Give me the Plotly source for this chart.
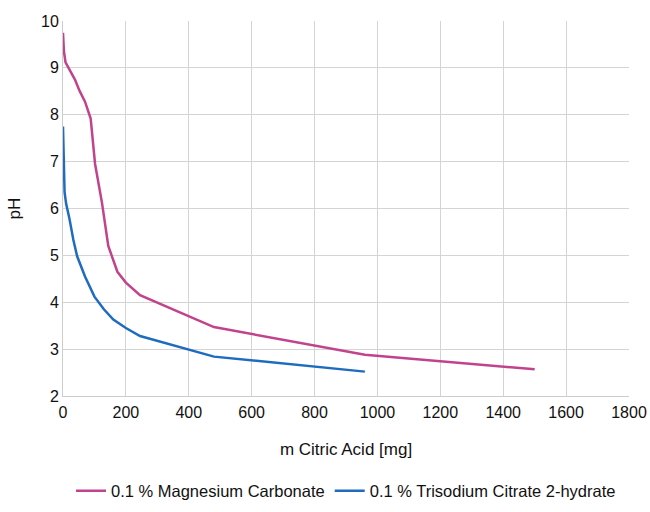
import plotly.graph_objects as go

# Magnesium carbonate series
mg_x = [0, 3, 8, 20, 38, 52, 70, 88, 102, 124, 144, 173, 200, 245, 480, 960, 1500]
mg_y = [9.75, 9.35, 9.12, 8.96, 8.75, 8.52, 8.28, 7.92, 6.95, 6.12, 5.2, 4.65, 4.42, 4.15, 3.47, 2.88, 2.57]

# Trisodium citrate series
tc_x = [0, 2, 5, 10, 20, 33, 45, 70, 100, 130, 160, 200, 245, 480, 960]
tc_y = [7.75, 6.9, 6.35, 6.1, 5.8, 5.33, 4.98, 4.55, 4.12, 3.85, 3.63, 3.45, 3.28, 2.84, 2.52]

names = ["0.1 % Magnesium Carbonate", "0.1 % Trisodium Citrate 2-hydrate"]
x_title = "m Citric Acid [mg]"
y_title = "pH"

fig = go.Figure()
fig.add_trace(go.Scatter(x=mg_x, y=mg_y, mode="lines", name=names[0],
                         line=dict(color="#c1438e", width=2.5)))
fig.add_trace(go.Scatter(x=tc_x, y=tc_y, mode="lines", name=names[1],
                         line=dict(color="#1f6cbf", width=2.5)))

fig.update_layout(
    width=650, height=512,
    margin=dict(l=63, r=21, t=21, b=116, autoexpand=False),
    paper_bgcolor="white", plot_bgcolor="white",
    font=dict(family="Liberation Sans, Arial, sans-serif", size=16, color="#111111"),
    legend=dict(orientation="h", x=0.5, xanchor="center",
                yref="container", y=0.041, yanchor="middle",
                font=dict(size=16.5), traceorder="normal"),
)
fig.update_xaxes(range=[0, 1800], dtick=200, showgrid=True, gridcolor="#d4d4d4",
                 showline=True, linecolor="#cccccc", zeroline=False,
                 tickfont=dict(size=16),
                 title=dict(text=x_title, font=dict(size=17), standoff=22),
                 ticks="outside", ticklen=2, tickcolor="rgba(0,0,0,0)", automargin=False)
fig.update_yaxes(range=[2, 10], dtick=1, showgrid=True, gridcolor="#d4d4d4",
                 showline=True, linecolor="#cccccc", zeroline=False,
                 tickfont=dict(size=16),
                 title=dict(text=y_title, font=dict(size=17), standoff=16),
                 ticks="", automargin=False)

fig.write_html("out.html", config={"displayModeBar": False},
               post_script="document.body.style.margin='0';")
